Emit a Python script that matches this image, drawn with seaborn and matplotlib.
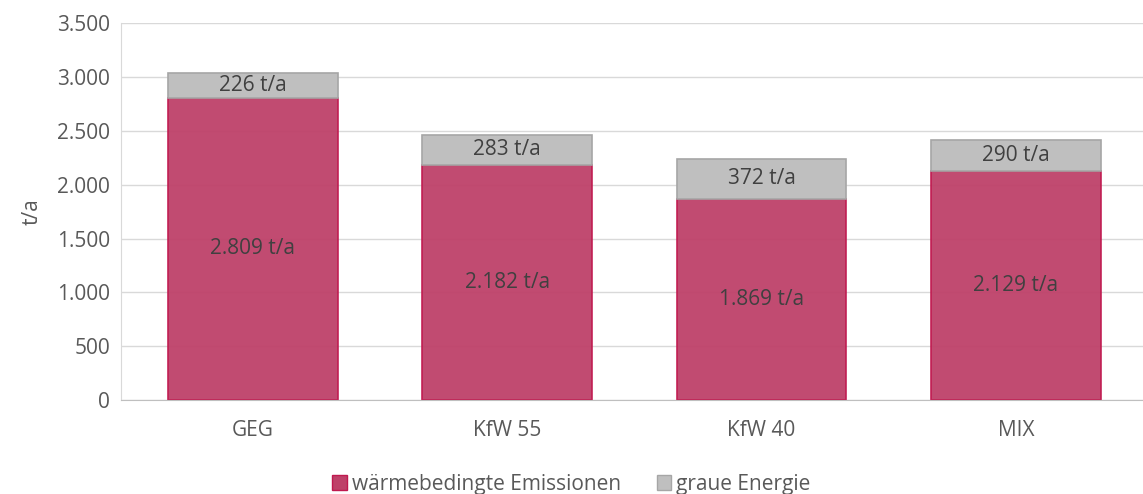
import pandas as pd
import seaborn as sns
import matplotlib.pyplot as plt
from matplotlib.patches import Patch
from matplotlib.ticker import FuncFormatter

# data
categories = ["GEG", "KfW 55", "KfW 40", "MIX"]
emissions = [2809, 2182, 1869, 2129]
grey_energy = [226, 283, 372, 290]

df = pd.DataFrame({"Variante": categories, "Emissionen": emissions, "Grau": grey_energy})

sns.set_style("white")
plt.rcParams["font.family"] = ["Open Sans", "DejaVu Sans"]

red_fill = "#be4169"
red_edge = "#c0194f"
grey_fill = "#bfbfbf"
grey_edge = "#a6a6a6"
text_col = "#404040"

fig, ax = plt.subplots(figsize=(11.43, 4.94), dpi=100)
fig.subplots_adjust(left=0.106, right=1.004, top=0.953, bottom=0.19)

sns.barplot(data=df, x="Variante", y="Emissionen", color=red_fill, width=0.667,
            edgecolor=red_edge, linewidth=1.2, saturation=1, alpha=0.95, ax=ax, zorder=2)

# grey part stacked on top
ax.bar(range(len(categories)), df["Grau"], bottom=df["Emissionen"], width=0.667,
       color=grey_fill, edgecolor=grey_edge, linewidth=1.2, zorder=2)

for i, (e, g) in enumerate(zip(emissions, grey_energy)):
    ax.text(i, e / 2, f"{e:,}".replace(",", ".") + " t/a", ha="center", va="center",
            fontsize=15, color=text_col, zorder=3)
    ax.text(i, e + g / 2, f"{g} t/a", ha="center", va="center",
            fontsize=15, color=text_col, zorder=3)

ax.set_ylim(0, 3500)
ax.set_yticks(range(0, 3501, 500))
ax.yaxis.set_major_formatter(FuncFormatter(lambda v, p: f"{int(v):,}".replace(",", ".")))
ax.grid(axis="y", color="#d9d9d9", linewidth=1, zorder=0)
ax.set_axisbelow(True)

for s in ["top", "right"]:
    ax.spines[s].set_visible(False)
ax.spines["left"].set_color("#d9d9d9")
ax.spines["bottom"].set_color("#bfbfbf")

ax.tick_params(axis="both", length=0, labelsize=15, colors="#595959", pad=8)
ax.tick_params(axis="x", pad=14)
ax.set_xlabel("")
ax.set_ylabel("t/a", fontsize=15, color="#595959", labelpad=10)

handles = [Patch(facecolor=red_fill, edgecolor=red_edge, label="wärmebedingte Emissionen"),
           Patch(facecolor=grey_fill, edgecolor=grey_edge, label="graue Energie")]
fig.legend(handles=handles, loc="lower center", bbox_to_anchor=(0.5, -0.04), ncol=2,
           frameon=False, fontsize=15, labelcolor="#595959", handlelength=0.7,
           handleheight=0.7, handletextpad=0.25, columnspacing=1.7)

fig.savefig("out.png", dpi=100)
